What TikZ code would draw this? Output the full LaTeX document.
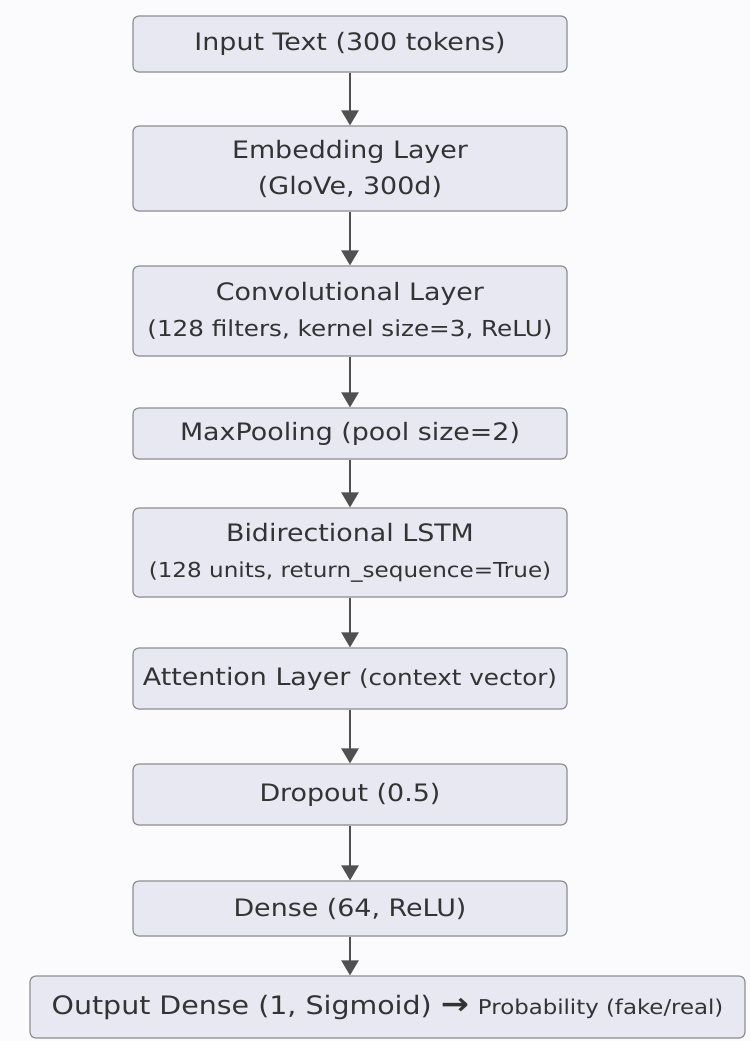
\documentclass[tikz,border=0pt]{standalone}
\usepackage{fontspec}
\setmainfont{DejaVu Sans}[FakeStretch=1.12]
\usetikzlibrary{arrows.meta}
\definecolor{boxfill}{HTML}{E8E8F3}
\definecolor{boxline}{HTML}{8E8E92}
\definecolor{arrcol}{HTML}{505050}
\definecolor{txtcol}{HTML}{333333}
\definecolor{pagebg}{HTML}{FBFBFD}
\begin{document}
\begin{tikzpicture}[x=0.5pt,y=-0.5pt,
  layer/.style={draw=boxline,fill=boxfill,line width=0.6pt,rounded corners=3pt,
    minimum width=217pt,inner sep=0pt,align=center,text=txtcol,
    font=\fontsize{12}{18}\selectfont},
  arr/.style={-{Triangle[length=7.5pt,width=8.5pt]},line width=1.2pt,draw=arrcol}]
  \fill[pagebg] (0,0) rectangle (750,1041);
  \node[layer,minimum height=28pt] (inp) at (350,44) {Input Text (300 tokens)};
  \node[layer,minimum height=42.5pt] (emb) at (350,168.5) {Embedding Layer\\(GloVe, 300d)};
  \node[layer,minimum height=45pt] (conv) at (350,311) {Convolutional Layer\\{\fontsize{11}{18}\selectfont(128 filters, kernel size=3, ReLU)}};
  \node[layer,minimum height=25.5pt] (pool) at (350,433.5) {MaxPooling (pool size=2)};
  \node[layer,minimum height=44.5pt] (lstm) at (350,552.5) {Bidirectional LSTM\\{\fontsize{10.3}{18}\selectfont(128 units, return\_sequence=True)}};
  \node[layer,minimum height=30.5pt] (att) at (350,678.5) {Attention Layer {\fontsize{11}{18}\selectfont(context vector)}};
  \node[layer,minimum height=30.5pt] (drop) at (350,794.5) {Dropout (0.5)};
  \node[layer,minimum height=27.5pt] (dense) at (350,908.5) {Dense (64, ReLU)};
  \node[layer,minimum width=357.5pt,minimum height=31pt] (out) at (387.5,1007)
    {\fontsize{12.7}{18}\selectfont Output Dense (1, Sigmoid) {\fontsize{15}{18}\selectfont\bfseries →} {\fontsize{10.2}{18}\selectfont Probability (fake/real)}};
  \foreach \a/\b in {inp/emb,emb/conv,conv/pool,pool/lstm,lstm/att,att/drop,drop/dense}
    \draw[arr] (\a.south) -- (\b.north);
  \draw[arr] (dense.south) -- (dense.south |- out.north);
\end{tikzpicture}
\end{document}
